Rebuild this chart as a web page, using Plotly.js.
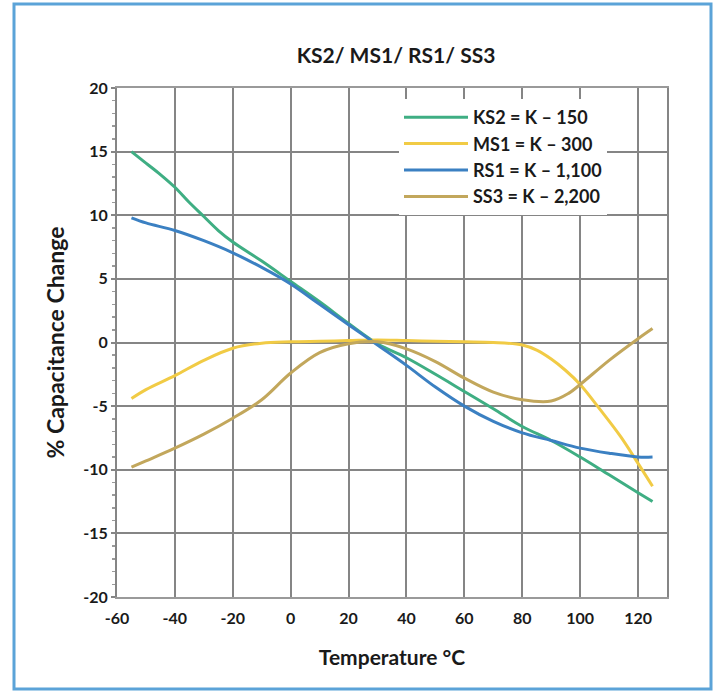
<!DOCTYPE html>
<html>
<head>
<meta charset="utf-8">
<script src="https://cdn.plot.ly/plotly-3.0.1.min.js"></script>
<style>
  html, body { margin: 0; padding: 0; background: #ffffff; }
  #chart { width: 717px; height: 692px; }
</style>
</head>
<body>
<div id="chart"></div>
<script>
// Temperature (°C) sample points
const tempKS2 = [-55, -50, -45, -40, -35, -30, -25, -20, -10, 0, 10, 20, 30, 40, 50, 60, 70, 80, 90, 100, 110, 120, 125];
const ks2 =     [15.0, 14.1, 13.2, 12.2, 11.0, 9.9, 8.8, 7.9, 6.4, 4.8, 3.2, 1.5, -0.1, -1.2, -2.5, -3.85, -5.2, -6.6, -7.7, -9.0, -10.4, -11.8, -12.5];

const tempMS1 = [-55, -50, -40, -30, -20, -10, 0, 10, 20, 30, 40, 50, 60, 70, 80, 85, 90, 95, 100, 107, 114, 120, 125];
const ms1 =     [-4.4, -3.7, -2.6, -1.4, -0.45, -0.05, 0.05, 0.1, 0.15, 0.2, 0.15, 0.1, 0.05, 0.0, -0.2, -0.6, -1.3, -2.2, -3.3, -5.3, -7.4, -9.5, -11.3];

const tempRS1 = [-55, -50, -40, -30, -20, -10, 0, 10, 20, 30, 40, 50, 60, 70, 80, 90, 100, 110, 120, 125];
const rs1 =     [9.8, 9.4, 8.8, 8.0, 7.05, 5.9, 4.6, 3.0, 1.4, -0.2, -1.8, -3.5, -5.0, -6.2, -7.1, -7.7, -8.3, -8.7, -9.0, -9.0];

const tempSS3 = [-55, -50, -40, -30, -20, -10, 0, 10, 20, 30, 40, 50, 60, 70, 80, 90, 96, 100, 110, 120, 125];
const ss3 =     [-9.8, -9.3, -8.3, -7.2, -5.95, -4.5, -2.4, -0.8, -0.1, 0.05, -0.5, -1.5, -2.8, -3.9, -4.5, -4.6, -4.0, -3.3, -1.4, 0.3, 1.1];

const seriesNames = ["KS2 = K \u2013 150", "MS1 = K \u2013 300", "RS1 = K \u2013 1,100", "SS3 = K \u2013 2,200"];
const seriesColors = ["#3fae83", "#f1cb45", "#3b80c2", "#c2a75c"];

const xTicks = [-60, -40, -20, 0, 20, 40, 60, 80, 100, 120];
const yTicks = [-20, -15, -10, -5, 0, 5, 10, 15, 20];

const fontFam = "Lato, 'Open Sans', sans-serif";

const xs = [tempKS2, tempMS1, tempRS1, tempSS3];
const ys = [ks2, ms1, rs1, ss3];

const traces = xs.map((x, i) => ({
  x: x,
  y: ys[i],
  type: 'scatter',
  mode: 'lines',
  name: seriesNames[i],
  line: { color: seriesColors[i], width: 3, shape: 'spline', smoothing: 1 }
}));

// Pixel layout helpers for paper-coordinate placement
const W = 717, H = 692;
const mL = 117, mR = 50, mT = 88, mB = 95;
const pw = W - mL - mR, ph = H - mT - mB;
const px = v => (v - mL) / pw;
const py = v => (H - mB - v) / ph;

const layout = {
  width: W,
  height: H,
  margin: { l: mL, r: mR, t: mT, b: mB, pad: 0 },
  paper_bgcolor: '#ffffff',
  plot_bgcolor: '#ffffff',
  font: { family: fontFam, color: '#1a1a1a', size: 16, weight: 'bold' },
  title: {
    text: 'KS2/ MS1/ RS1/ SS3',
    font: { family: fontFam, size: 21, color: '#1a1a1a', weight: 'bold' },
    x: 396 / W, xanchor: 'center', xref: 'container',
    y: 1 - 56 / H, yanchor: 'middle', yref: 'container'
  },
  xaxis: {
    range: [-60, 130],
    tickvals: xTicks,
    ticktext: xTicks.map(String),
    showgrid: true,
    gridcolor: '#858585',
    gridwidth: 2,
    zeroline: false,
    showline: true,
    linecolor: '#9a9a9a',
    linewidth: 2,
    mirror: true,
    ticks: 'outside',
    ticklen: 6,
    tickcolor: 'rgba(0,0,0,0)',
    tickfont: { family: fontFam, size: 16, color: '#1a1a1a', weight: 'bold' },
    title: { text: 'Temperature \u00B0C', font: { family: fontFam, size: 21, color: '#1a1a1a', weight: 'bold' }, standoff: 24 },
    fixedrange: true
  },
  yaxis: {
    range: [-20, 20],
    tickvals: yTicks,
    ticktext: yTicks.map(String),
    showgrid: true,
    gridcolor: '#858585',
    gridwidth: 2,
    zeroline: false,
    showline: true,
    linecolor: '#858585',
    linewidth: 2,
    mirror: true,
    ticks: 'outside',
    ticklen: 4,
    tickwidth: 2,
    tickcolor: '#858585',
    minor: { dtick: 1, ticks: 'outside', ticklen: 3, tickwidth: 1.5, tickcolor: '#9a9a9a', showgrid: false },
    tickfont: { family: fontFam, size: 16, color: '#1a1a1a', weight: 'bold' },
    title: { text: '% Capacitance Change', font: { family: fontFam, size: 23, color: '#1a1a1a', weight: 'bold' }, standoff: 12 },
    fixedrange: true
  },
  showlegend: true,
  legend: {
    x: px(399), y: py(99), xanchor: 'left', yanchor: 'top',
    bgcolor: '#ffffff',
    borderwidth: 0,
    font: { family: fontFam, size: 18, color: '#1a1a1a', weight: 'bold' },
    tracegroupgap: 0,
    itemwidth: 64
  },
  shapes: [
    {
      type: 'rect', xref: 'paper', yref: 'paper',
      x0: px(14), x1: px(711), y0: py(689), y1: py(4),
      line: { color: '#5ba3d8', width: 3 },
      fillcolor: 'rgba(0,0,0,0)',
      layer: 'below'
    }
  ]
};

Plotly.newPlot('chart', traces, layout, { staticPlot: true, displayModeBar: false });
</script>
</body>
</html>
